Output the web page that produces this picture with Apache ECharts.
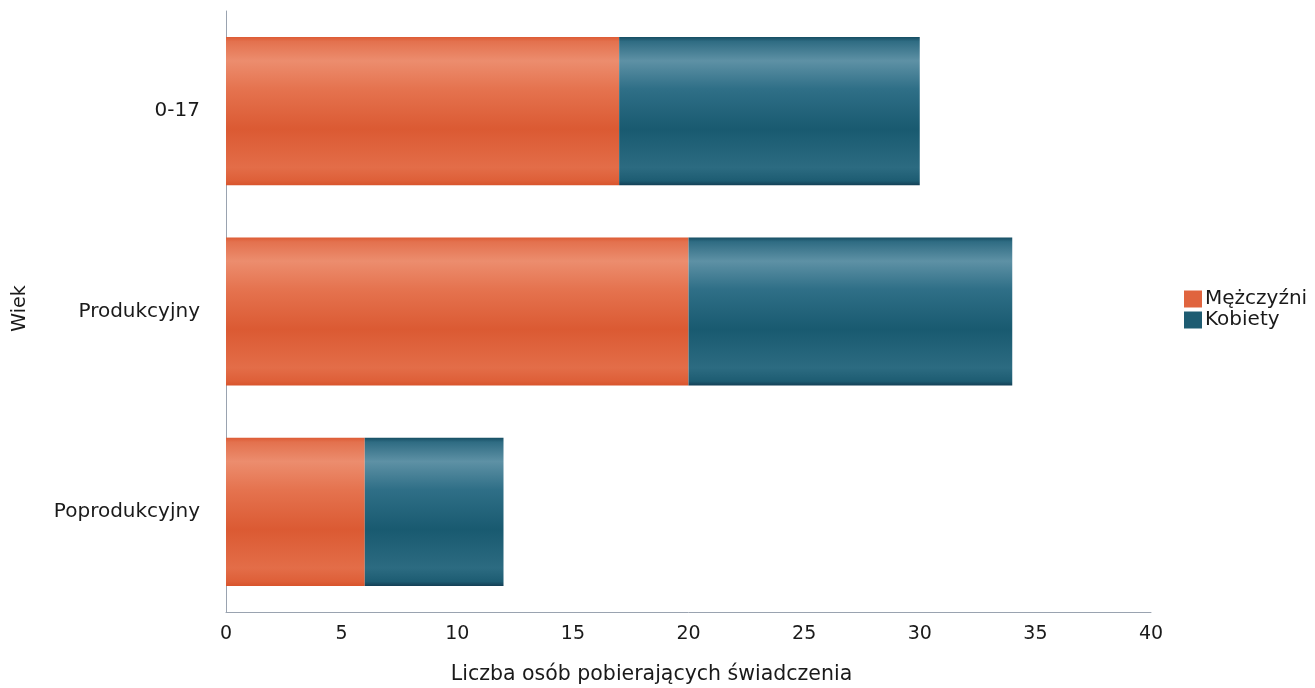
<!DOCTYPE html>
<html>
<head>
<meta charset="utf-8">
<script src="https://cdn.jsdelivr.net/npm/echarts@6/dist/echarts.min.js"></script>
<style>
html,body{margin:0;padding:0;background:#fff;}
#chart{width:1315px;height:688px;}
</style>
</head>
<body>
<div id="chart"></div>
<script>
const categories = ['0-17', 'Produkcyjny', 'Poprodukcyjny'];
const men = [17, 20, 6];
const women = [13, 14, 6];
const seriesNames = ['Mężczyźni', 'Kobiety'];
const xTicks = { min: 0, max: 40, interval: 5 };

function grad(stops) {
  return new echarts.graphic.LinearGradient(0, 0, 0, 1, stops.map((c) => ({ offset: c[0], color: c[1] })));
}
const orangeGrad = grad([[0, '#dd5b34'], [0.03, '#e3714e'], [0.16, '#ec8d6e'], [0.35, '#e5734f'], [0.62, '#db5a33'], [0.88, '#e36d48'], [0.97, '#de5f38'], [1, '#d8542c']]);
const tealGrad = grad([[0, '#164e63'], [0.03, '#2f6c83'], [0.16, '#5e91a5'], [0.35, '#2f6f87'], [0.62, '#195a70'], [0.88, '#2c6b81'], [0.97, '#1d5c72'], [1, '#143f55']]);

const chart = echarts.init(document.getElementById('chart'));
const font = 'DejaVu Sans';
chart.setOption({
  animation: false,
  textStyle: { fontFamily: font },
  grid: { left: 226, right: 164, top: 11, bottom: 76, containLabel: false, outerBoundsMode: 'none' },
  legend: {
    orient: 'vertical', left: 1179, top: 284, itemWidth: 18, itemHeight: 17, itemGap: 1,
    icon: 'rect',
    textStyle: { fontSize: 20, lineHeight: 20, color: '#1a1a1a', fontFamily: font, padding: [0, 0, 0, -2] },
    data: [
      { name: seriesNames[0], itemStyle: { color: '#e0643e' } },
      { name: seriesNames[1], itemStyle: { color: '#1e5c72' } }
    ]
  },
  xAxis: {
    type: 'value', min: xTicks.min, max: xTicks.max, interval: xTicks.interval,
    name: 'Liczba osób pobierających świadczenia', nameLocation: 'middle', nameGap: 52,
    nameTextStyle: { fontSize: 20.5, color: '#1a1a1a', padding: [0, 74, 0, 0] },
    axisLine: { show: true, lineStyle: { color: '#9aa3b0', width: 1 } },
    axisTick: { show: false },
    splitLine: { show: false },
    axisLabel: { fontSize: 19, color: '#1a1a1a', margin: 13 }
  },
  yAxis: {
    type: 'category', data: categories, inverse: true,
    name: 'Wiek', nameLocation: 'middle', nameGap: 196, nameRotate: 90,
    nameTextStyle: { fontSize: 19, color: '#1a1a1a', padding: [0, 0, 0, 6] },
    axisLine: { show: true, lineStyle: { color: '#9aa3b0', width: 1 } },
    axisTick: { show: false },
    axisLabel: { fontSize: 20, color: '#1a1a1a', margin: 26 }
  },
  series: [
    { name: seriesNames[0], type: 'bar', stack: 'a', data: men, barCategoryGap: '26%',
      itemStyle: { color: orangeGrad } },
    { name: seriesNames[1], type: 'bar', stack: 'a', data: women, barCategoryGap: '26%',
      itemStyle: { color: tealGrad } }
  ]
});
</script>
</body>
</html>
